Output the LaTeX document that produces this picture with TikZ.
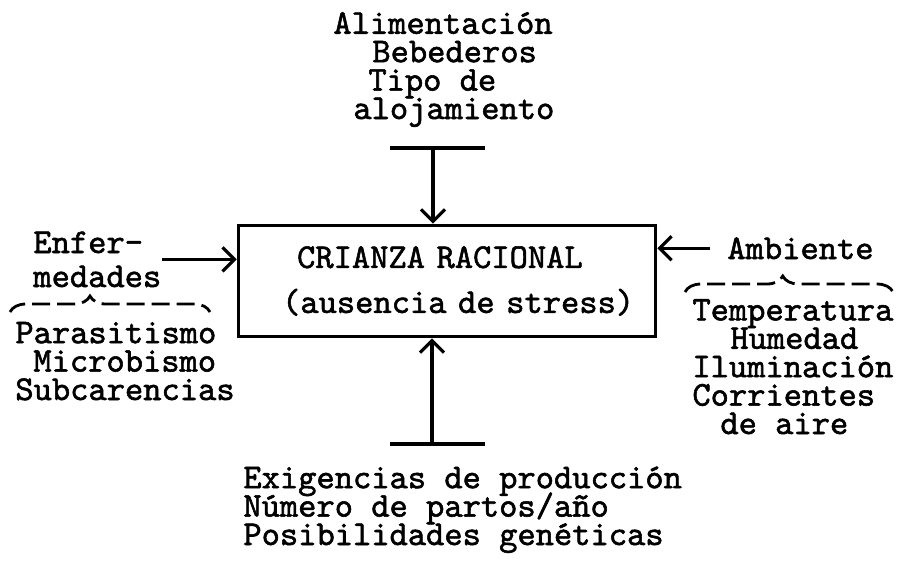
\documentclass[tikz,border=0pt]{standalone}
\usepackage{fontspec}
\setmonofont{lmmono10-regular}[Extension=.otf, FakeBold=1.6]
\usetikzlibrary{arrows,arrows.meta,decorations.pathreplacing}
\tikzstyle{block} = [draw, rectangle, line width=1.8pt, inner sep=0pt,
    minimum width=208.5pt, minimum height=55.5pt, text width=208.5pt, align=left]
\tikzstyle{txt} = [inner sep=0pt, align=left, anchor=base west]
\tikzstyle{input} = [coordinate]
\tikzstyle{bar} = [line width=1.6pt]
\tikzstyle{llave} = [decorate, decoration={brace, amplitude=8pt},
    line width=1.4pt, dash pattern=on 9pt off 3.5pt]
\newcommand{\maq}{\ttfamily\fontsize{17.4}{14.2}\selectfont\lineskiplimit=-100pt}

\begin{document}
\begin{tikzpicture}[x=0.5pt,y=-0.5pt,font=\maq,>={Straight Barb[length=6pt,width=12pt]}]
    \useasboundingbox (0,0) rectangle (898,564);
    \node [block] (box) at (447,281) {\hspace*{29.3pt}CRIANZA RACIONAL\\[8.3pt]\hspace*{21.8pt}(ausencia de stress)};
    % entradas (base = ultima linea)
    \node [txt] (alim) at (333,119) {Alimentación\\\hspace*{19.5pt}Bebederos\\\hspace*{17.5pt}Tipo de\\\hspace*{10pt}alojamiento};
    \node [txt] (enf) at (33,287) {Enfer-\\[2.8pt]medades};
    \node [txt, inner xsep=8.5pt] (amb) at (710,259) {Ambiente};
    \node [txt] (paras) at (15,400) {Parasitismo\\\hspace*{9pt}Microbismo\\Subcarencias};
    \node [txt] (temp) at (692,434) {Temperatura\\\hspace*{19pt}Humedad\\Iluminación\\Corrientes\\\hspace*{14pt}de aire};
    \node [txt] (exig) at (243,545) {Exigencias de producción\\Número de partos/año\\Posibilidades genéticas};
    \node [input] (tsup) at (433,148) {};
    \node [input] (tinf) at (432,444) {};
    \coordinate (lla) at (10,312);
    \coordinate (llb) at (210,312);
    \coordinate (llc) at (685,292);
    \coordinate (lld) at (893,292);
    % flechas
    \draw [bar] (tsup) ++(-43,0) -- ++(95,0);
    \draw [->,bar] (tsup) -- (tsup |- box.north);
    \draw [bar] (tinf) ++(-42,0) -- ++(95,0);
    \draw [->,bar] (tinf) -- (tinf |- box.south);
    \draw [->,bar] (enf.east) -- (enf.east -| box.west);
    \draw [->,bar] (amb.west) -- (amb.west -| box.east);
    % llaves
    \draw [llave, decoration={aspect=0.4}] (lla) -- (llb);
    \draw [llave, decoration={aspect=0.47}] (llc) -- (lld);
\end{tikzpicture}
\end{document}
